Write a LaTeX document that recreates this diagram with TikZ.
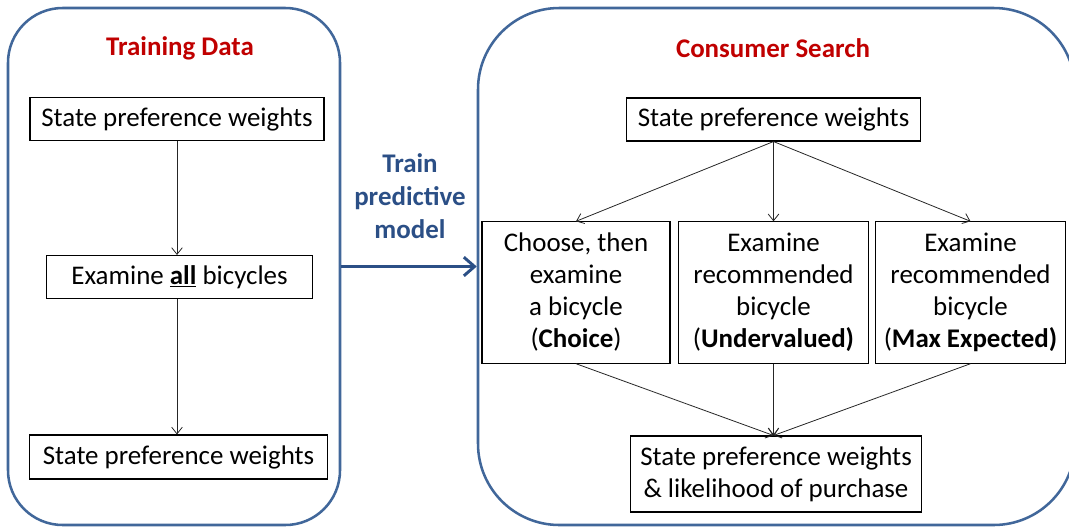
\documentclass[tikz,border=0pt]{standalone}
\usepackage{fontspec}
\setmainfont{Carlito}
\usetikzlibrary{arrows.meta}
\definecolor{panelblue}{HTML}{41679A}
\definecolor{titlered}{HTML}{C00000}
\definecolor{trainblue}{HTML}{2B4F86}
\tikzset{
  panel/.style={draw=panelblue, line width=1.9pt, rectangle, inner sep=0pt},
  paneltitle/.style={font=\fontsize{20.2}{24}\selectfont\bfseries, text=titlered},
  stepbox/.style={draw, line width=0.8pt, align=center, inner sep=0pt,
    font=\fontsize{20.2}{24}\selectfont},
  flow/.style={->, line width=0.6pt, draw=black!85},
}
\begin{document}
\begin{tikzpicture}[x=0.75pt, y=-0.75pt, >={Straight Barb[length=5pt, width=8pt]}]
    \useasboundingbox (0,0) rectangle (1069,529);
    \clip (0,0) rectangle (1069,529);

    % Paneles
    \node[panel, rounded corners=41pt, minimum width=249pt, minimum height=387.75pt] (train) at (174,266.5) {};
    \node[panel, rounded corners=61pt, minimum width=447.75pt, minimum height=387.75pt] (search) at (776.5,266.5) {};

    % Titulos
    \node[paneltitle] (traintitle) at (180,48) {Training Data};
    \node[paneltitle] (searchtitle) at (773,48) {Consumer Search};

    % Datos de entrenamiento
    \node[stepbox, minimum width=220.5pt, minimum height=32.25pt] (tw1) at (177,119) {State preference weights};
    \node[stepbox, minimum width=200pt, minimum height=32.25pt] (tall) at (179.5,277) {Examine \underline{\textbf{all}} bicycles};
    \node[stepbox, minimum width=224pt, minimum height=33pt] (tw2) at (178.5,457) {State preference weights};
    \draw[flow] (tw1.south) -- (tw1.south |- tall.north);
    \draw[flow] (tw1.south |- tall.south) -- (tw1.south |- tw2.north);

    % Modelo
    \node[align=center, text=trainblue, font=\fontsize{20.2}{24.75}\selectfont\bfseries] (model) at (410,196) {Train\\predictive\\model};
    \draw[-{Straight Barb[length=8pt, width=14pt]}, line width=2.2pt, draw=trainblue] (train.east) -- (search.west);

    % Busqueda del consumidor
    \node[stepbox, minimum width=220pt, minimum height=32.25pt] (cw) at (773.5,119.5) {State preference weights};
    \node[stepbox, minimum width=141pt, minimum height=106pt] (choice) at (576,292.5) {Choose, then\\examine\\a bicycle\\(\textbf{Choice})};
    \node[stepbox, minimum width=143pt, minimum height=106pt] (under) at (773.5,292.5) {Examine\\recommended\\bicycle\\(\textbf{Undervalued)}};
    \node[stepbox, minimum width=143pt, minimum height=106pt] (maxexp) at (970.5,292.5) {Examine\\recommended\\bicycle\\(\textbf{Max Expected)}};
    \node[stepbox, minimum width=218pt, minimum height=57pt] (result) at (776,474) {State preference weights\\\& likelihood of purchase};

    \draw[flow] (cw.south) -- (choice.north);
    \draw[flow] (cw.south) -- (under.north);
    \draw[flow] (cw.south) -- (maxexp.north);
    \draw[flow] (choice.south) -- (result.north -| cw.south);
    \draw[flow] (under.south) -- (result.north -| cw.south);
    \draw[flow] (maxexp.south) -- (result.north -| cw.south);
\end{tikzpicture}
\end{document}
